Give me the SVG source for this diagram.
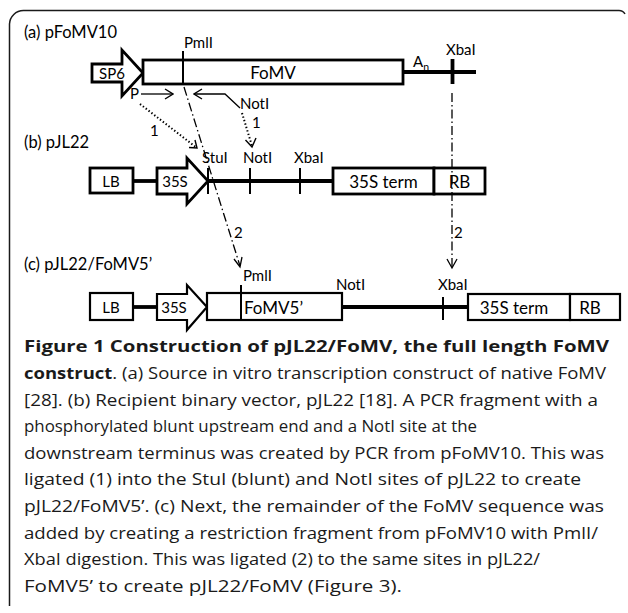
<svg xmlns="http://www.w3.org/2000/svg" width="628" height="613" viewBox="0 0 628 613">
<defs>
<marker id="open" viewBox="0 0 10 12" refX="9" refY="6" markerWidth="10" markerHeight="12" markerUnits="userSpaceOnUse" orient="auto">
<path d="M1,1 L9,6 L1,11" fill="none" stroke="#000" stroke-width="1.4"/>
</marker>
</defs>
<style>
.lbl{font-family:Lato,"Liberation Sans",sans-serif;font-size:15px;fill:#000}
.row{font-family:Lato,"Liberation Sans",sans-serif;font-size:16.5px;fill:#000}
.big{font-family:Lato,"Liberation Sans",sans-serif;font-size:17px;fill:#000}
.box{fill:#fff;stroke:#000;stroke-width:2.8}
.bb{fill:#fff;stroke:#000;stroke-width:2.2}
.bar{stroke:#000;stroke-width:3.8;fill:none}
.tick{stroke:#000;stroke-width:2;fill:none}
.dot{stroke:#000;stroke-width:2;stroke-dasharray:1.4 2.2;fill:none}
.dd{stroke:#000;stroke-width:1.3;stroke-dasharray:9 3 1.5 3;fill:none}
.thin{stroke:#000;stroke-width:1.3;fill:none}
.cap{font-family:"Open Sans","Noto Sans",sans-serif;font-size:16px;fill:#1a1a1a}
</style>
<path d="M9.5,606 V24 A14,14 0 0 1 23.5,10.5 H619 A7,7 0 0 1 625,14" fill="none" stroke="#1a1a1a" stroke-width="1.5"/>

<g id="row-a">
<text class="row" x="24" y="38">(a) pFoMV10</text>
<g id="sp6"><polygon class="box" points="92,64 122,64 122,50 143,73 122,96 122,82 92,82"/><text class="lbl" x="99" y="78.5">SP6</text></g>
<g id="fomv"><rect class="box" x="143" y="60" width="260" height="24"/><text class="big" x="273" y="79" text-anchor="middle" font-size="18.5">FoMV</text></g>
<line class="bar" x1="403" y1="72" x2="476" y2="72"/>
<text class="lbl" x="413" y="67" font-size="16">A<tspan font-size="10.5" dy="4">n</tspan></text>
<g id="a-pmli"><line class="tick" x1="183" y1="51" x2="183" y2="84"/><text class="lbl" x="184" y="48">PmlI</text></g>
<g id="a-xbai"><line class="bar" stroke-width="3" x1="452.5" y1="59" x2="452.5" y2="84"/><text class="lbl" x="446" y="55">XbaI</text></g>
<g id="primers">
<text class="lbl" x="130" y="99">P</text>
<line class="thin" x1="141" y1="94" x2="173" y2="94" marker-end="url(#open)"/>
<polyline class="thin" points="240,108 225,94 194,94" marker-end="url(#open)"/>
<text class="lbl" x="240" y="109">NotI</text>
</g>
</g>

<g id="row-b">
<text class="row" x="24" y="148">(b) pJL22</text>
<line class="bar" x1="133" y1="181" x2="157" y2="181"/>
<line class="bar" x1="208" y1="181" x2="333" y2="181"/>
<g id="b-lb"><rect class="box" x="90" y="168" width="43" height="25"/><text class="lbl" x="111" y="187" text-anchor="middle">LB</text></g>
<g id="b-35s"><polygon class="box" points="157,168 187,168 187,158 208,181 187,204 187,194 157,194"/><text class="lbl" x="175" y="187" text-anchor="middle">35S</text></g>
<line class="tick" x1="208" y1="168" x2="208" y2="194"/>
<line class="tick" x1="250" y1="168" x2="250" y2="194"/>
<line class="tick" x1="300" y1="168" x2="300" y2="194"/>
<text class="lbl" x="202" y="163">StuI</text>
<text class="lbl" x="243" y="163">NotI</text>
<text class="lbl" x="294" y="163">XbaI</text>
<g id="b-term"><rect class="box" x="333" y="168" width="101" height="26"/><text class="big" x="383.5" y="187.5" text-anchor="middle" font-size="18">35S term</text></g>
<g id="b-rb"><rect class="box" x="434" y="168" width="51" height="26"/><text class="big" x="459.5" y="187.5" text-anchor="middle" font-size="18">RB</text></g>
</g>

<g id="row-c">
<text class="row" x="24" y="270">(c) pJL22/FoMV5’</text>
<line class="bar" x1="133" y1="307" x2="157" y2="307"/>
<line class="bar" x1="342" y1="307" x2="468" y2="307"/>
<g id="c-lb"><rect class="bb" x="90" y="293" width="43" height="27"/><text class="lbl" x="111" y="313" text-anchor="middle">LB</text></g>
<g id="c-35s"><polygon class="bb" points="157,294 187,294 187,285 207,307 187,330 187,320 157,320"/><text class="lbl" x="174" y="312.5" text-anchor="middle">35S</text></g>
<g id="c-fomv5"><rect class="bb" x="207" y="293" width="135" height="27"/><line class="tick" x1="241" y1="285" x2="241" y2="320"/><text class="big" x="244" y="314" font-size="19">FoMV5’</text></g>
<text class="lbl" x="243" y="281">PmlI</text>
<line class="tick" x1="443" y1="297" x2="443" y2="320"/>
<text class="lbl" x="336" y="290">NotI</text>
<text class="lbl" x="438" y="290">XbaI</text>
<g id="c-term"><rect class="bb" x="468" y="294" width="102" height="26"/><text class="big" x="514" y="314" text-anchor="middle" font-size="19.5">35S term</text></g>
<g id="c-rb"><rect class="bb" x="570" y="294" width="50" height="26"/><text class="big" x="590" y="314" text-anchor="middle" font-size="19">RB</text></g>
</g>

<g id="connectors">
<line class="dot" x1="140" y1="104" x2="197" y2="148"/>
<path d="M189,147.5 L197,148 L195,140" fill="none" stroke="#000" stroke-width="1.4"/>
<text class="lbl" x="150" y="136">1</text>
<line class="dot" x1="242" y1="113" x2="252" y2="146"/>
<path d="M245.5,140 L252,147 L256,138" fill="none" stroke="#000" stroke-width="1.4"/>
<text class="lbl" x="252" y="128">1</text>
<line class="dd" x1="184" y1="87" x2="240" y2="266"/>
<path d="M234,259 L240,267 L242,257" fill="none" stroke="#000" stroke-width="1.3"/>
<text class="lbl" x="234" y="238">2</text>
<line class="dd" x1="452" y1="93" x2="452" y2="267"/>
<path d="M447,259 L452,268 L457,259" fill="none" stroke="#000" stroke-width="1.3"/>
<text class="lbl" x="454" y="238">2</text>
</g>

<g id="caption">
<text class="cap" x="24" y="352" font-weight="bold" font-size="17.5" textLength="585" lengthAdjust="spacingAndGlyphs">Figure 1 Construction of pJL22/FoMV, the full length FoMV</text>
<text class="cap" x="24" y="379" textLength="582" lengthAdjust="spacingAndGlyphs"><tspan font-weight="bold">construct</tspan>. (a) Source in vitro transcription construct of native FoMV</text>
<text class="cap" x="24" y="405.6" textLength="574" lengthAdjust="spacingAndGlyphs">[28]. (b) Recipient binary vector, pJL22 [18]. A PCR fragment with a</text>
<text class="cap" x="24" y="432.2" textLength="453" lengthAdjust="spacingAndGlyphs">phosphorylated blunt upstream end and a NotI site at the</text>
<text class="cap" x="24" y="458.8" textLength="580" lengthAdjust="spacingAndGlyphs">downstream terminus was created by PCR from pFoMV10. This was</text>
<text class="cap" x="24" y="485.4" textLength="557" lengthAdjust="spacingAndGlyphs">ligated (1) into the StuI (blunt) and NotI sites of pJL22 to create</text>
<text class="cap" x="24" y="512" textLength="580" lengthAdjust="spacingAndGlyphs">pJL22/FoMV5’. (c) Next, the remainder of the FoMV sequence was</text>
<text class="cap" x="24" y="538.6" textLength="574" lengthAdjust="spacingAndGlyphs">added by creating a restriction fragment from pFoMV10 with PmlI/</text>
<text class="cap" x="24" y="565.2" textLength="516" lengthAdjust="spacingAndGlyphs">XbaI digestion. This was ligated (2) to the same sites in pJL22/</text>
<text class="cap" x="24" y="591.8" textLength="378" lengthAdjust="spacingAndGlyphs">FoMV5’ to create pJL22/FoMV (Figure 3).</text>
</g>
</svg>
